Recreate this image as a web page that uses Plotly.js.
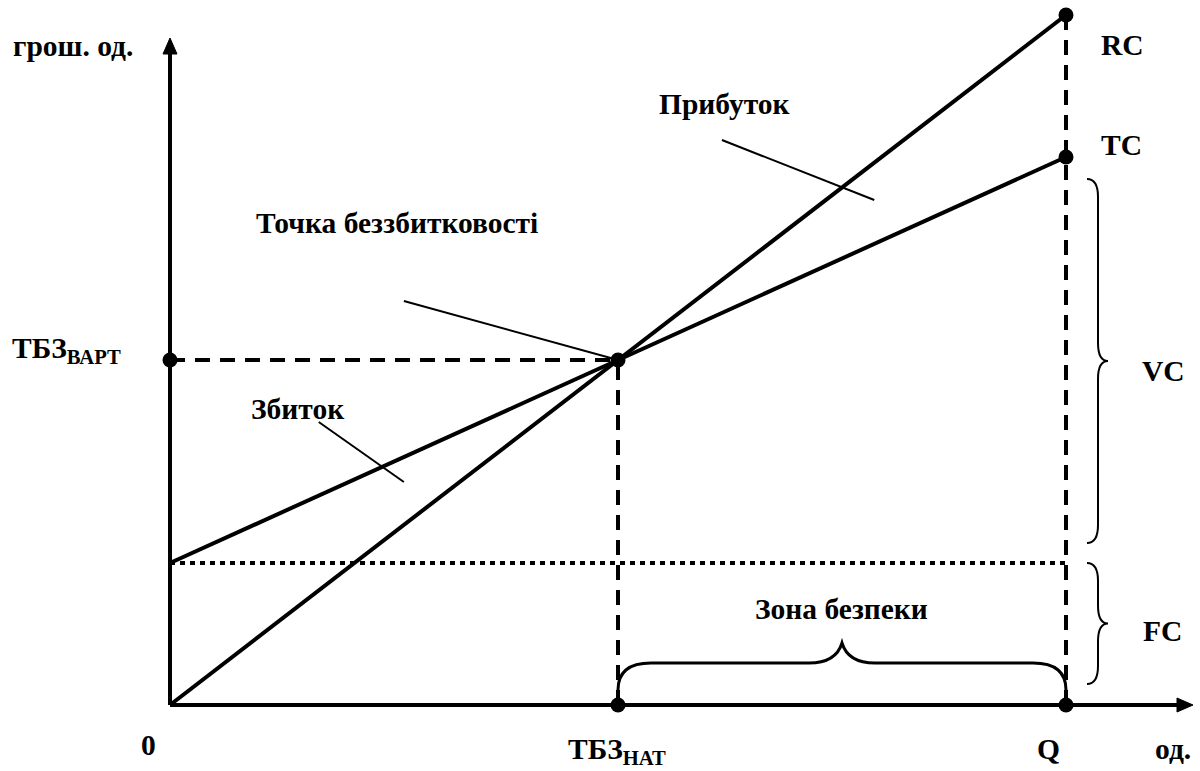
<!DOCTYPE html>
<html>
<head>
<meta charset="utf-8">
<script src="https://cdn.plot.ly/plotly-3.0.1.min.js"></script>
<style>
  html, body { margin: 0; padding: 0; background: #fff; }
  #chart { width: 1200px; height: 771px; }
</style>
</head>
<body>
<div id="chart"></div>
<script>
// Break-even chart: output on x (0 .. Q), money on y
var qPoints = [0, 50, 100];           // 0, ТБЗ нат, Q
var revenue = [0, 345, 690];          // RC
var totalCost = [142, 345, 548];      // TC
var fixedCost = [142, 142, 142];      // FC
var breakEvenQ = 50;
var breakEvenV = 345;
var maxQ = 100;

// little pointer lines from the labels
var profitPtrX = [61.6, 78.6];
var profitPtrY = [565, 505];
var bepPtrX = [26.1, 50];
var bepPtrY = [404, 345];
var lossPtrX = [16.6, 26.1];
var lossPtrY = [283, 223];

// pixel scale of the drawing (x units -> px, y units -> px)
var pxX = 8.96;
var pxY = 1;
var originPx = [170, 705];

var font = { family: '"Liberation Serif", "DejaVu Serif", serif', size: 29.5, color: '#000', weight: 'bold' };

var traces = [];

function line(x, y, width, dash) {
  traces.push({
    x: x, y: y, type: 'scatter', mode: 'lines', hoverinfo: 'skip',
    line: { color: '#000', width: width, dash: dash || 'solid' }
  });
}

// guide lines
line([0, breakEvenQ], [breakEvenV, breakEvenV], 4, '15px,10px');
line([breakEvenQ, breakEvenQ], [0, breakEvenV], 4, '15px,10px');
line([maxQ, maxQ], [0, revenue[2]], 4, '15px,10px');
line(qPoints, fixedCost, 4, '5px,5px');

// RC and TC
line(qPoints, revenue, 4);
line(qPoints, totalCost, 4);

// pointers
line(profitPtrX, profitPtrY, 2);
line(bepPtrX, bepPtrY, 2);
line(lossPtrX, lossPtrY, 2);

// points
traces.push({
  x: [0, breakEvenQ, breakEvenQ, maxQ, maxQ, maxQ],
  y: [breakEvenV, breakEvenV, 0, 0, revenue[2], totalCost[2]],
  type: 'scatter', mode: 'markers', hoverinfo: 'skip',
  marker: { color: '#000', size: 15 }
});

// --- axes with arrow heads (shapes) ---
var xTip = (1193 - originPx[0]) / pxX;
var yTip = (originPx[1] - 38) / pxY;
var headLen = 16, headHalf = 7;

function P(x, y) { return x + ',' + y; }

var shapes = [
  { type: 'line', x0: 0, y0: 0, x1: xTip - headLen / pxX, y1: 0, line: { color: '#000', width: 4 } },
  { type: 'line', x0: 0, y0: 0, x1: 0, y1: yTip - headLen / pxY, line: { color: '#000', width: 4 } },
  { type: 'path', fillcolor: '#000', line: { color: '#000', width: 1 },
    path: 'M' + P(xTip - headLen / pxX, headHalf) + ' L' + P(xTip, 0) + ' L' + P(xTip - headLen / pxX, -headHalf) + ' Z' },
  { type: 'path', fillcolor: '#000', line: { color: '#000', width: 1 },
    path: 'M' + P(-headHalf / pxX, yTip - headLen) + ' L' + P(0, yTip) + ' L' + P(headHalf / pxX, yTip - headLen) + ' Z' }
];

// vertical curly brace to the right of Q, between y0 (bottom) and y1 (top)
function vBrace(y0, y1, width) {
  var x0 = maxQ + 21 / pxX, xb = maxQ + 32 / pxX, xt = maxQ + 42 / pxX;
  var r = 18, ym = (y0 + y1) / 2;
  var d = 'M' + P(x0, y1) +
    ' Q' + P(xb, y1) + ' ' + P(xb, y1 - r) +
    ' L' + P(xb, ym + r) +
    ' Q' + P(xb, ym) + ' ' + P(xt, ym) +
    ' Q' + P(xb, ym) + ' ' + P(xb, ym - r) +
    ' L' + P(xb, y0 + r) +
    ' Q' + P(xb, y0) + ' ' + P(x0, y0);
  shapes.push({ type: 'path', path: d, line: { color: '#000', width: width } });
}
vBrace(fixedCost[2] + 20, totalCost[2] - 22, 2);
vBrace(21, fixedCost[2], 2);

// horizontal brace over the safety zone
(function () {
  var xa = breakEvenQ, xz = maxQ, xm = (xa + xz) / 2;
  var yb = 42, yt = 62, rx = 33 / pxX;
  var d = 'M' + P(xa, 0) + ' L' + P(xa, 15) +
    ' Q' + P(xa, yb) + ' ' + P(xa + rx, yb) +
    ' L' + P(xm - rx, yb) +
    ' Q' + P(xm - 6 / pxX, yb) + ' ' + P(xm, yt) +
    ' Q' + P(xm + 6 / pxX, yb) + ' ' + P(xm + rx, yb) +
    ' L' + P(xz - rx, yb) +
    ' Q' + P(xz, yb) + ' ' + P(xz, 15) + ' L' + P(xz, 0);
  shapes.push({ type: 'path', path: d, line: { color: '#000', width: 3 } });
})();

// --- labels, placed in pixel space then mapped to data ---
function lbl(text, px, py, xanchor) {
  return {
    text: text, x: (px - originPx[0]) / pxX, y: (originPx[1] - py) / pxY,
    xref: 'x', yref: 'y', showarrow: false, font: font,
    xanchor: xanchor || 'center', yanchor: 'middle'
  };
}

var annotations = [
  lbl('грош. од.', 11, 46, 'left'),
  lbl('ТБЗ<sub>ВАРТ</sub>', 10, 350, 'left'),
  lbl('RC', 1099, 45, 'left'),
  lbl('TC', 1099, 145, 'left'),
  lbl('VC', 1140, 371, 'left'),
  lbl('FC', 1141, 631, 'left'),
  lbl('Прибуток', 724, 104),
  lbl('Точка беззбитковості', 397, 223),
  lbl('Збиток', 297, 409),
  lbl('Зона безпеки', 841, 609),
  lbl('0', 148, 745),
  lbl('ТБЗ<sub>НАТ</sub>', 617, 751),
  lbl('Q', 1048, 749),
  lbl('од.', 1153, 749, 'left')
];

var layout = {
  width: 1200, height: 771,
  margin: { l: 0, r: 0, t: 0, b: 0 },
  paper_bgcolor: '#fff', plot_bgcolor: '#fff',
  showlegend: false,
  xaxis: { range: [-originPx[0] / pxX, (1200 - originPx[0]) / pxX], visible: false, fixedrange: true },
  yaxis: { range: [-(771 - originPx[1]) / pxY, originPx[1] / pxY], visible: false, fixedrange: true },
  shapes: shapes,
  annotations: annotations
};

Plotly.newPlot('chart', traces, layout, { staticPlot: true, displayModeBar: false });
</script>
</body>
</html>
